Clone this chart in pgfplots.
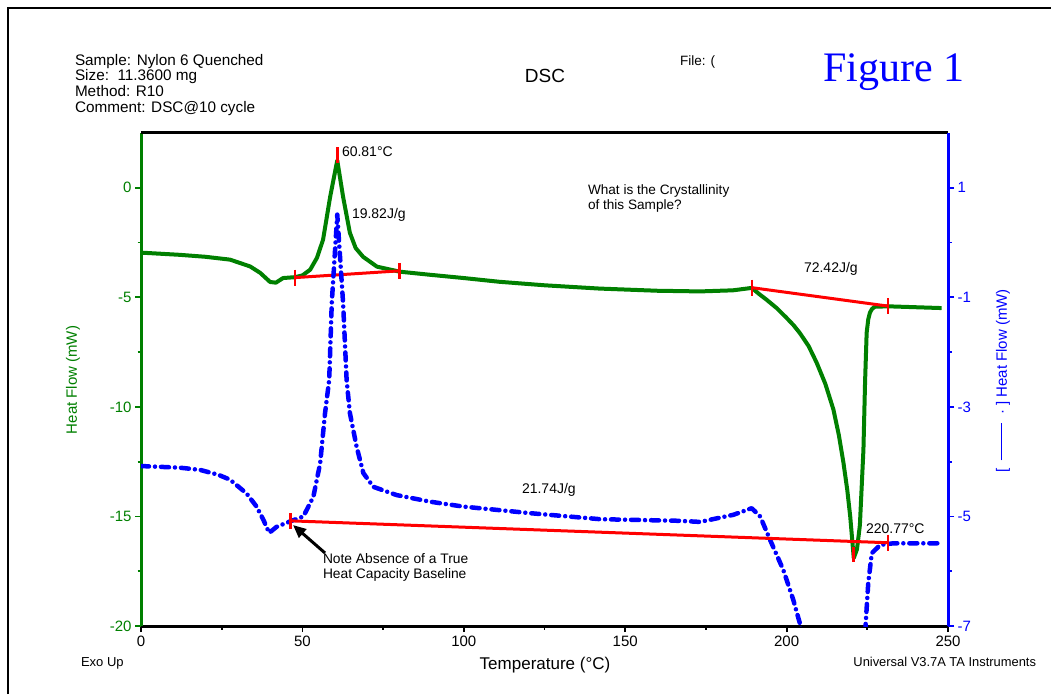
\documentclass[border=0pt]{standalone}
\usepackage{pgfplots}
\pgfplotsset{compat=1.18}
\usepackage{fontspec}
\setmainfont{Liberation Sans}
\newfontfamily\timesf{Liberation Serif}
\usetikzlibrary{arrows.meta}
\definecolor{dsgreen}{RGB}{0,128,0}
\definecolor{dsblue}{RGB}{0,0,255}
\definecolor{dsred}{RGB}{255,0,0}
\newcommand{\fs}[1]{\fontsize{#1}{#1}\selectfont}
\pgfplotsset{
  common/.style={
    scale only axis, width=807pt, height=493pt,
    at={(141pt,68pt)}, anchor=south west,
    xmin=0, xmax=250,
    tick align=outside,
    major tick length=6pt, minor tick length=3.5pt,
    tick label style={font=\fs{15}},
    /pgf/number format/assume math mode=true,
    clip=true,
  }
}
\begin{document}
\begin{tikzpicture}
\useasboundingbox (0pt,0pt) rectangle (1051pt,694pt);
\fill[white] (0pt,0pt) rectangle (1051pt,694pt);
\draw[line width=2pt] (8pt,0pt) -- (8pt,686pt) -- (1051pt,686pt);

% ---------- green axis ----------
\begin{axis}[common,
  axis y line*=left, axis x line*=bottom,
  ymin=-20, ymax=2.5,
  ytick={-20,-15,-10,-5,0}, minor ytick={-17.5,-12.5,-7.5,-2.5},
  xtick={0,50,100,150,200,250}, minor xtick={25,75,125,175,225},
  y axis line style={draw=dsgreen, line width=3pt},
  x axis line style={draw=black, line width=3pt},
  ytick style={draw=dsgreen, line width=1.8pt},
  xtick style={draw=black, line width=1.8pt},
  yticklabel style={text=dsgreen},
  xticklabel style={text=black},
]
\addplot[dsgreen, line width=4pt, line join=round] coordinates {
(0,-2.96) (12,-3.06) (20,-3.15) (27.6,-3.28) (31,-3.45) (33.8,-3.59)
(36.9,-3.88) (40,-4.30) (41.8,-4.33) (44,-4.12) (47.7,-4.08) (50,-4.00)
(52.4,-3.74) (54.5,-3.2) (56.4,-2.37) (58.6,-0.41) (60.8,1.25) (62.6,-0.41)
(64.7,-2.05) (66.5,-2.75) (68.8,-3.15) (73.1,-3.60) (80.2,-3.83) (89.5,-3.97)
(100,-4.12) (111,-4.29) (125,-4.45) (142,-4.60) (160,-4.70) (173.2,-4.73)
(183.4,-4.68) (189.2,-4.57) (191.5,-4.85) (193.8,-5.11) (197,-5.50)
(200.0,-5.94) (202.2,-6.28) (204.1,-6.63) (206.8,-7.22) (209.3,-7.98)
(212,-8.95) (214.5,-10.12) (216.2,-11.3) (217.6,-12.54) (218.8,-13.8)
(219.7,-14.99) (220.8,-16.9) (221.8,-16.5) (222.7,-15.4) (223.8,-11.95)
(224.3,-8.89) (224.8,-6.61) (225.3,-6.0) (225.8,-5.70) (226.5,-5.52)
(227.4,-5.43) (231.4,-5.41) (248.0,-5.49)
};
\addplot[dsred, line width=3pt] coordinates {(47.7,-4.10) (80.2,-3.79)};
\addplot[dsred, line width=3pt] coordinates {(189.3,-4.56) (231.4,-5.40)};
\addplot[dsred, line width=2.8pt, only marks, mark=|, mark size=8pt]
  coordinates {(47.7,-4.10) (80.2,-3.79) (189.3,-4.56) (231.4,-5.40)};
\addplot[dsred, line width=3pt] coordinates {(60.81,1.85) (60.81,1.15)};
\addplot[dsred, line width=3pt] coordinates {(220.77,-16.4) (220.77,-17.1)};
\end{axis}

% ---------- blue axis ----------
\begin{axis}[common,
  axis y line*=right, axis x line*=top,
  ymin=-7, ymax=2,
  ytick={-7,-5,-3,-1,1}, minor ytick={-6,-4,-2,0},
  xtick=\empty,
  y axis line style={draw=dsblue, line width=3pt},
  x axis line style={draw=black, line width=3pt},
  ytick style={draw=dsblue, line width=1.8pt},
  yticklabel style={text=dsblue},
]
\addplot[dsblue, line width=4.5pt, line cap=round, line join=round,
  dash pattern=on 8pt off 6pt on 0pt off 6pt] coordinates {
(0,-4.08) (12.1,-4.11) (18.3,-4.15) (24,-4.24) (27.6,-4.33) (32.7,-4.58)
(35.8,-4.82) (37.9,-5.06) (39.7,-5.30) (42.0,-5.19) (46.2,-5.09) (50.3,-5.00)
(53.4,-4.64) (55.5,-4.03) (57.0,-3.12) (58.3,-2.51) (59.1,-1.10) (60.8,0.51)
(62.6,-1.10) (63.7,-2.51) (64.7,-3.11) (66.8,-3.73) (68.9,-4.21) (72.0,-4.46)
(79.2,-4.61) (89.5,-4.73) (99.8,-4.82) (110.2,-4.88) (120.5,-4.94) (142.2,-5.05)
(167.0,-5.08) (173.2,-5.10) (183.5,-4.97) (189.2,-4.85) (191.8,-5.00)
(194.9,-5.43) (199.0,-5.98) (202.1,-6.53) (204.1,-6.95) (206,-7.6) (212,-9)
(222,-9) (224,-7.6) (224.5,-6.95) (225.3,-6.21) (226.4,-5.67) (229.0,-5.52)
(233.1,-5.49) (248.0,-5.49)
};
\addplot[dsred, line width=3pt] coordinates {(46.2,-5.08) (231.4,-5.48)};
\addplot[dsred, line width=2.8pt, only marks, mark=|, mark size=8pt]
  coordinates {(46.2,-5.08) (231.4,-5.48)};
\end{axis}

% ---------- texts ----------
\begin{scope}[every node/.style={inner sep=0pt, outer sep=0pt}]
\node[anchor=base west, font=\fs{15.3}] at (75pt,628pt) {Sample: Nylon 6 Quenched};
\node[anchor=base west, font=\fs{15.3}] at (75pt,613pt) {Size:\ \ 11.3600 mg};
\node[anchor=base west, font=\fs{15.3}] at (75pt,597pt) {Method: R10};
\node[anchor=base west, font=\fs{15.3}] at (75pt,581pt) {Comment: DSC@10 cycle};
\node[anchor=base, font=\fs{19}] at (545pt,611pt) {DSC};
\node[anchor=base west, font=\fs{13.5}] at (680pt,628pt) {File: (};
\node[anchor=base west, font=\timesf\fs{42}, text=dsblue] at (823pt,612pt) {Figure 1};
\node[anchor=base west, font=\fs{13}] at (81pt,28pt) {Exo Up};
\node[anchor=base, font=\fs{17}] at (545pt,25pt) {Temperature (°C)};
\node[anchor=base east, font=\fs{12.9}] at (1036pt,28pt) {Universal V3.7A TA Instruments};
\node[rotate=90, font=\fs{15}, text=dsgreen] at (73pt,314pt) {Heat Flow (mW)};
\node[rotate=90, font=\fs{15}, text=dsblue] at (1003pt,313pt) {[\ \ \rule[0.3em]{37pt}{1.2pt}\ \ ·\ ]\ Heat Flow (mW)};
\node[anchor=base west, font=\fs{14}] at (342pt,537pt) {60.81°C};
\node[anchor=base west, font=\fs{14}] at (352pt,475pt) {19.82J/g};
\node[anchor=base west, font=\fs{13.6}] at (588pt,499pt) {What is the Crystallinity};
\node[anchor=base west, font=\fs{13.6}] at (588pt,484pt) {of this Sample?};
\node[anchor=base west, font=\fs{14}] at (804pt,421pt) {72.42J/g};
\node[anchor=base west, font=\fs{14}] at (522pt,201pt) {21.74J/g};
\node[anchor=base west, font=\fs{14}] at (866pt,161pt) {220.77°C};
\node[anchor=base west, font=\fs{13.8}] at (323pt,131pt) {Note Absence of a True};
\node[anchor=base west, font=\fs{13.8}] at (323pt,116pt) {Heat Capacity Baseline};
\end{scope}
\draw[-{Triangle[length=13pt,width=11pt]}, line width=3pt] (325pt,141pt) -- (293pt,169pt);
\end{tikzpicture}
\end{document}
